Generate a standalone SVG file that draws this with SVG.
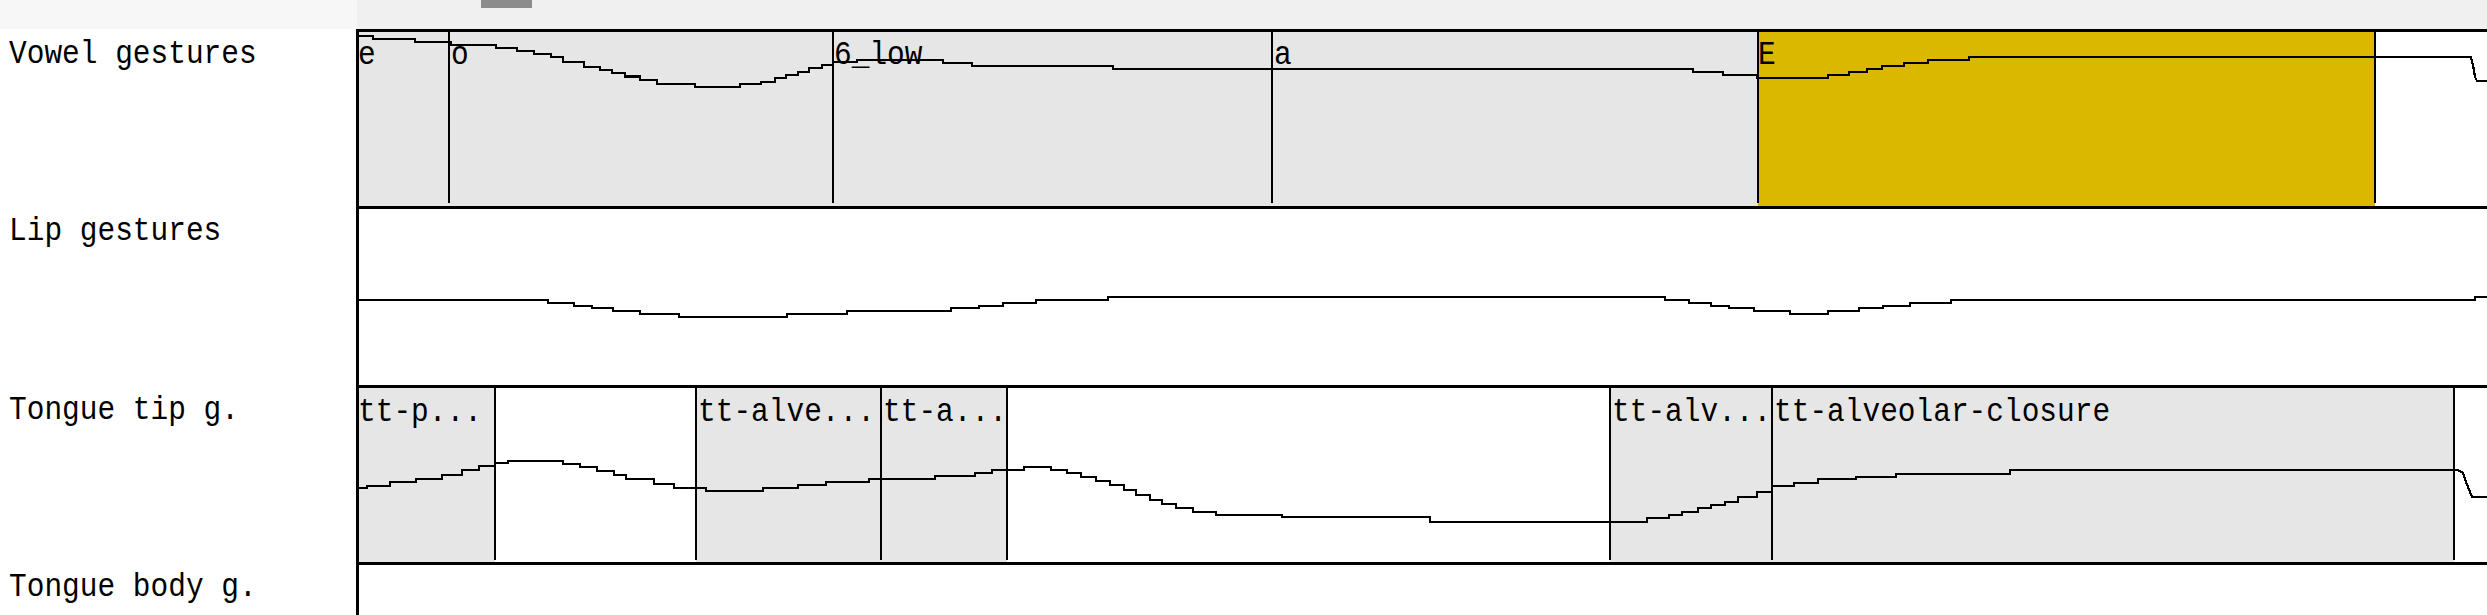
<svg xmlns="http://www.w3.org/2000/svg" width="2487" height="615" viewBox="0 0 2487 615">
<style>
.lbl{font-family:"Liberation Mono","DejaVu Sans Mono",monospace;font-size:29.5px;fill:#000}
.gray{fill:#e6e6e6}
.yel{fill:#dbb800}
.vl{stroke:#000;stroke-width:2;shape-rendering:crispEdges}
.bd{stroke:#000;stroke-width:3;shape-rendering:crispEdges}
.crv{fill:none;stroke:#000;stroke-width:2.2;shape-rendering:crispEdges}
</style>
<rect x="0" y="0" width="2487" height="615" fill="#fff"/>
<g id="toolbar">
<rect x="0" y="0" width="357" height="29" fill="#f7f7f7"/>
<rect x="357" y="0" width="2130" height="29" fill="#f0f0f0"/>
<rect x="481" y="0" width="51" height="8" fill="#8c8c8c"/>
</g>
<g id="row-labels">
<text class="lbl" transform="translate(9,63) scale(1,1.15)">Vowel gestures</text>
<text class="lbl" transform="translate(9,240) scale(1,1.15)">Lip gestures</text>
<text class="lbl" transform="translate(9,419) scale(1,1.15)">Tongue tip g.</text>
<text class="lbl" transform="translate(9,596) scale(1,1.15)">Tongue body g.</text>
</g>
<g id="vowel-row">
<g id="v-e"><rect class="gray" x="358" y="31" width="91" height="175"/><text class="lbl" transform="translate(358,64) scale(1,1.15)">e</text></g>
<g id="v-o"><rect class="gray" x="449" y="31" width="384" height="175"/><line class="vl" x1="449" y1="31" x2="449" y2="203"/><text class="lbl" transform="translate(451,64) scale(1,1.15)">o</text></g>
<g id="v-6low"><rect class="gray" x="833" y="31" width="439" height="175"/><line class="vl" x1="833" y1="31" x2="833" y2="203"/><text class="lbl" transform="translate(834,64) scale(1,1.15)">6_low</text></g>
<g id="v-a"><rect class="gray" x="1272" y="31" width="486" height="175"/><line class="vl" x1="1272" y1="31" x2="1272" y2="203"/><text class="lbl" transform="translate(1274,64) scale(1,1.15)">a</text></g>
<g id="v-E"><rect class="yel" x="1758" y="31" width="617" height="175"/><line class="vl" x1="1758" y1="31" x2="1758" y2="203"/><line class="vl" x1="2375" y1="31" x2="2375" y2="203"/><text class="lbl" transform="translate(1758,64) scale(1,1.15)">E</text></g>
</g>
<g id="tongue-tip-row">
<g id="tt-1"><rect class="gray" x="358" y="387" width="137" height="175"/><line class="vl" x1="495" y1="387" x2="495" y2="560"/><text class="lbl" transform="translate(358,421) scale(1,1.15)">tt-p...</text></g>
<g id="tt-2"><rect class="gray" x="696" y="387" width="185" height="175"/><line class="vl" x1="696" y1="387" x2="696" y2="560"/><text class="lbl" transform="translate(698,421) scale(1,1.15)">tt-alve...</text></g>
<g id="tt-3"><rect class="gray" x="881" y="387" width="126" height="175"/><line class="vl" x1="881" y1="387" x2="881" y2="560"/><line class="vl" x1="1007" y1="387" x2="1007" y2="560"/><text class="lbl" transform="translate(883,421) scale(1,1.15)">tt-a...</text></g>
<g id="tt-4"><rect class="gray" x="1610" y="387" width="162" height="175"/><line class="vl" x1="1610" y1="387" x2="1610" y2="560"/><text class="lbl" transform="translate(1612,421) scale(1,1.15)">tt-alv...</text></g>
<g id="tt-5"><rect class="gray" x="1772" y="387" width="682" height="175"/><line class="vl" x1="1772" y1="387" x2="1772" y2="560"/><line class="vl" x1="2454" y1="387" x2="2454" y2="560"/><text class="lbl" transform="translate(1774,421) scale(1,1.15)">tt-alveolar-closure</text></g>
</g>
<g id="connectors">
<path class="crv" d="M357,35.7 H373 V39.3 H415 V42.3 H451 V44.7 H496 V48.3 H517 V51 H534 V54 H551 V57.3 H563 V61.7 H584 V66.7 H600 V70 H612 V73.3 H625 V76.5 H640 V80 H657 V84 H695 V87.3 H740 V84 H761 V81.7 H775 V78.3 H786 V75 H798 V71.7 H809 V68.3 H822 V65 H833 V61.7 H857 V60 H943 V62.7 H972 V66.3 H1113 V69.3 H1693 V72 H1723 V75.3 H1757 V78.3 H1828 V75.3 H1849 V72.3 H1867 V69.3 H1882 V66.3 H1904 V63.3 H1928 V60.3 H1969 V57.3 H2471 L2473,65 L2475,77 L2477,81 H2487"/>
<path class="crv" d="M357,300.3 H548 V303.3 H574 V305.7 H592 V308.3 H613 V311.3 H640 V314 H679 V317 H787 V314 H847 V311.3 H951 V308.3 H979 V305.7 H1003 V303.3 H1036 V300.3 H1108 V297 H1665 V300.3 H1689 V303.3 H1711 V305.7 H1729 V308.3 H1754 V311.3 H1790 V314 H1828 V311.3 H1859 V308.3 H1883 V305.7 H1910 V303.3 H1951 V300.3 H2475 V297 H2487"/>
<path class="crv" d="M357,488.3 H367 V486 H390 V482.3 H416 V478.7 H442 V475 H462 V470 H479 V466 H495 V463.3 H508 V461 H563 V464 H580 V467.3 H597 V470.7 H614 V474.7 H626 V479 H654 V484 H674 V487.7 H706 V491 H763 V488.3 H798 V485 H826 V482.3 H869 V479 H935 V476.3 H975 V473.3 H992 V470 H1024 V467.3 H1051 V470 H1067 V473.3 H1081 V476.7 H1096 V480.7 H1110 V485 H1124 V490 H1136 V495 H1150 V500 H1162 V504 H1176 V508.3 H1193 V511.7 H1216 V515 H1282 V517.3 H1430 V521.7 H1647 V518.3 H1669 V515 H1682 V511.7 H1698 V508.3 H1711 V505 H1725 V501.7 H1738 V497.3 H1757 V491.7 H1772 V486 H1794 V483.3 H1818 V479.3 H1856 V476.7 H1896 V474 H2010 V470 H2458 L2463,473 L2466,482 L2472,496.7 H2487"/>
</g>
<g id="frame">
<line class="bd" x1="357" y1="30" x2="2487" y2="30"/>
<line class="bd" x1="357" y1="207" x2="2487" y2="207"/>
<line class="bd" x1="357" y1="386" x2="2487" y2="386"/>
<line class="bd" x1="357" y1="563" x2="2487" y2="563"/>
<line class="bd" x1="357.5" y1="29" x2="357.5" y2="615"/>
</g>
</svg>
